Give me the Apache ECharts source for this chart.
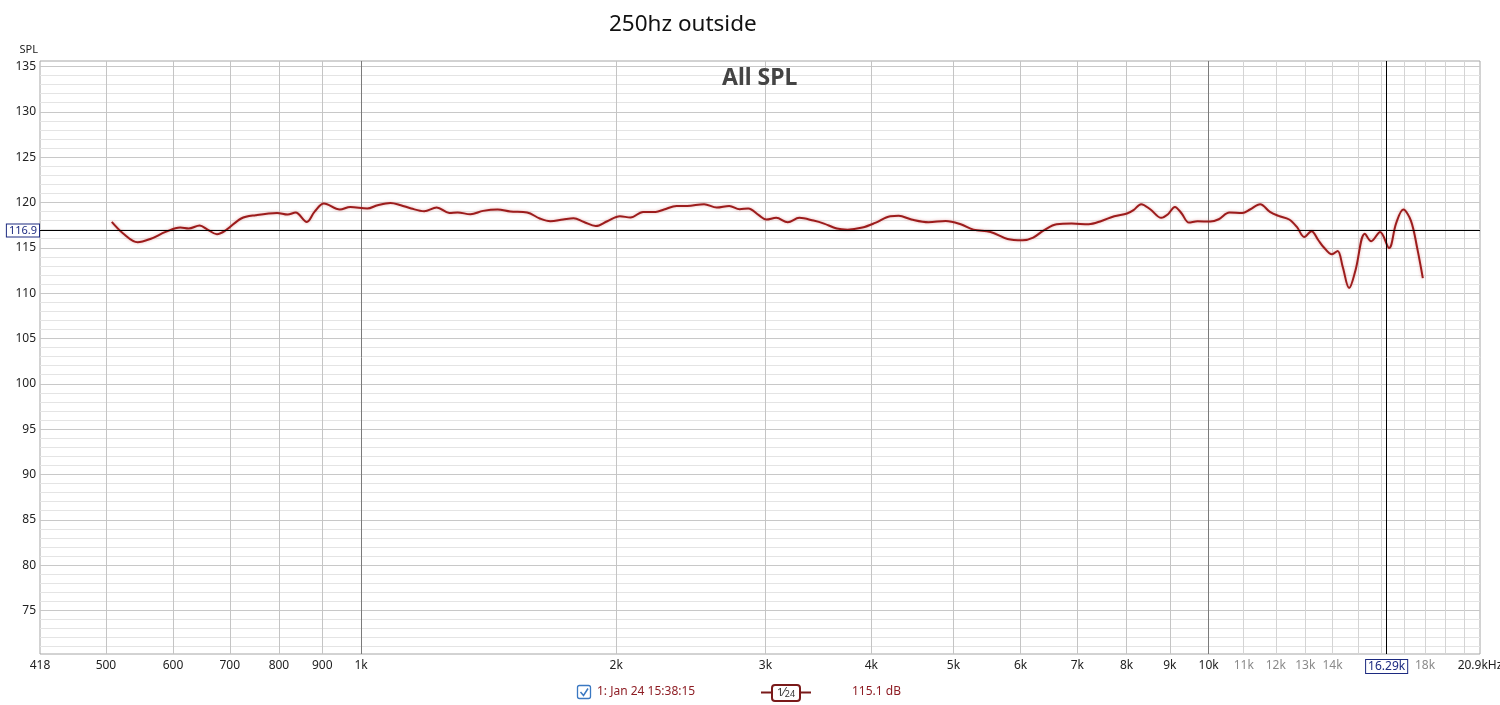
<!DOCTYPE html>
<html>
<head>
<meta charset="utf-8">
<title>250hz outside</title>
<script src="https://cdn.jsdelivr.net/npm/echarts@6/dist/echarts.min.js"></script>
<style>
  html, body { margin: 0; padding: 0; background: #fff; }
  #chart { width: 1500px; height: 705px; }
</style>
</head>
<body>
<div id="chart"></div>
<script>
const freqs = [
  508, 524, 545, 565, 588, 612, 626, 645, 659, 676,
  694, 722, 751, 796, 819, 837, 863, 881, 904, 944,
  971, 1017, 1046, 1083, 1114, 1146, 1187, 1228, 1271, 1300,
  1346, 1393, 1449, 1500, 1570, 1625, 1672, 1731, 1781, 1832,
  1892, 1952, 2020, 2079, 2151, 2226, 2277, 2357, 2425, 2539,
  2628, 2719, 2797, 2863, 2946, 3007, 3089, 3187, 3289, 3418,
  3517, 3641, 3749, 3904, 4042, 4210, 4308, 4460, 4672, 4895,
  5099, 5279, 5529, 5791, 6031, 6209, 6391, 6617, 6892, 7218,
  7474, 7738, 8011, 8153, 8324, 8539, 8791, 8946, 9125, 9293,
  9477, 9702, 10045, 10279, 10582, 10956, 11188, 11501, 11812, 12093,
  12446, 12709, 12963, 13224, 13473, 13661, 13979, 14197, 14395, 14646,
  14900, 15285, 15552, 15932, 16326, 16637, 16966, 17322, 17627, 17893
]
const spl = [
  117.85, 116.57, 115.61, 116.0, 116.75, 117.23, 117.12, 117.45, 117.0, 116.5,
  117.0, 118.23, 118.6, 118.85, 118.67, 118.89, 117.85, 118.96, 119.88, 119.22,
  119.51, 119.33, 119.7, 119.95, 119.7, 119.33, 119.03, 119.44, 118.85, 118.89,
  118.7, 119.07, 119.22, 119.0, 118.89, 118.23, 117.93, 118.12, 118.26, 117.85,
  117.4, 117.93, 118.48, 118.34, 118.96, 118.96, 119.22, 119.62, 119.62, 119.81,
  119.44, 119.62, 119.26, 119.33, 118.6, 118.12, 118.3, 117.82, 118.3, 118.0,
  117.67, 117.12, 117.0, 117.23, 117.74, 118.48, 118.52, 118.12, 117.82, 117.96,
  117.6, 117.0, 116.75, 115.97, 115.83, 116.13, 116.93, 117.6, 117.67, 117.6,
  117.96, 118.48, 118.78, 119.15, 119.81, 119.22, 118.3, 118.67, 119.51, 118.78,
  117.78, 117.93, 117.89, 118.15, 118.89, 118.85, 119.22, 119.81, 118.96, 118.52,
  118.12, 117.3, 116.2, 116.83, 115.83, 115.09, 114.28, 114.65, 112.88, 110.56,
  112.5, 116.56, 115.72, 116.75, 114.98, 117.67, 119.22, 118.0, 114.91, 111.66
]

// axis ticks
const xLabelFreqs = [418, 500, 600, 700, 800, 900, 1000, 2000, 3000, 4000, 5000,
  6000, 7000, 8000, 9000, 10000, 11000, 12000, 13000, 14000, 18000, 20900]
const xGreyLabels = [11000, 12000, 13000, 14000, 18000]
const xGridFreqs = [500, 600, 700, 800, 900, 1000, 2000, 3000, 4000, 5000, 6000,
  7000, 8000, 9000, 10000, 11000, 12000, 13000, 14000, 15000, 16000, 17000,
  18000, 19000, 20000]
const xDecades = [1000, 10000]
const yLabelValues = [75, 80, 85, 90, 95, 100, 105, 110, 115, 120, 125, 130, 135]
const yGridValues = Array.from({ length: 65 }, (_, i) => 71 + i)

const cursorFreq = 16290
const cursorSpl = 116.9
const cursorReading = '115.1 dB'
const traceName = '1: Jan 24 15:38:15'

const FONT = '"Noto Sans", "Open Sans", sans-serif'
const TRACE = '#9c1c1c'
const NAVY = '#1c2a80'

const lg = (f) => Math.log10(f)

const fmtFreq = (v) => {
	const f = Math.round(Math.pow(10, v))
	if (f === 20900) return '20.9kHz'
	if (f >= 1000) return f / 1000 + 'k'
	return String(f)
}

const chart = echarts.init(document.getElementById('chart'))

const option = {
	animation: false,
	backgroundColor: '#fff',
	title: [
		{
			text: '250hz outside',
			left: 604,
			top: 8,
			textStyle: { fontFamily: FONT, fontSize: 22.5, fontWeight: 'normal', color: '#111' }
		},
		{
			text: 'All SPL',
			left: 717,
			top: 62,
			textStyle: { fontFamily: FONT, fontSize: 23, fontWeight: 'bold', color: '#444' }
		}
	],
	grid: {
		left: 40, right: 20, top: 61, bottom: 51,
		outerBoundsMode: 'none',
		containLabel: false,
		show: true, borderColor: '#a6a6a6', borderWidth: 1
	},
	xAxis: {
		type: 'value',
		min: lg(418),
		max: lg(20900),
		axisLine: { show: false },
		axisTick: { show: false, customValues: xGridFreqs.map(lg) },
		splitLine: {
			show: true,
			lineStyle: {
				width: 1,
				color: xGridFreqs.map((f) => (xDecades.includes(f) ? '#7a7a7a' : f > 10000 ? '#d4d4d4' : '#c4c4c4'))
			}
		},
		axisLabel: {
			customValues: xLabelFreqs.map(lg),
			margin: 6,
			fontFamily: FONT,
			fontSize: 12,
			color: '#222',
			formatter: (v) => {
				const txt = fmtFreq(v)
				return xGreyLabels.includes(Math.round(Math.pow(10, v))) ? '{g|' + txt + '}' : txt
			},
			rich: { g: { color: '#8a8a8a', fontFamily: FONT, fontSize: 12 } }
		}
	},
	yAxis: {
		type: 'value',
		min: 70.2,
		max: 135.6,
		name: 'SPL',
		nameLocation: 'end',
		nameGap: 6,
		nameTextStyle: { fontFamily: FONT, fontSize: 11, color: '#222', align: 'right', padding: [0, 2, 0, 0] },
		axisLine: { show: false },
		axisTick: { show: false, customValues: yGridValues },
		splitLine: {
			show: true,
			lineStyle: { width: 1, color: yGridValues.map((v) => (v % 5 === 0 ? '#c8c8c8' : '#e4e4e4')) }
		},
		axisLabel: {
			customValues: yLabelValues,
			margin: 4,
			fontFamily: FONT,
			fontSize: 12,
			color: '#222'
		}
	},
	series: [
		{
			name: traceName,
			type: 'line',
			data: freqs.map((f, i) => [lg(f), spl[i]]),
			showSymbol: false,
			smooth: 0.35,
			lineStyle: {
				color: TRACE,
				width: 2,
				shadowColor: 'rgba(200, 70, 70, 0.45)',
				shadowBlur: 3
			},
			markLine: {
				silent: true,
				symbol: 'none',
				lineStyle: { color: '#000', width: 1, type: 'solid' },
				data: [
					{
						yAxis: cursorSpl,
						label: {
							position: 'start',
							distance: 1,
							formatter: String(cursorSpl),
							fontFamily: FONT,
							fontSize: 11,
							color: NAVY,
							backgroundColor: '#fff',
							borderColor: NAVY,
							borderWidth: 1,
							padding: [1, 2, 0, 2]
						}
					},
					{
						xAxis: lg(cursorFreq),
						label: {
							position: 'start',
							distance: 6,
							formatter: (cursorFreq / 1000).toFixed(2) + 'k',
							fontFamily: FONT,
							fontSize: 12,
							color: NAVY,
							backgroundColor: '#fff',
							borderColor: NAVY,
							borderWidth: 1,
							padding: [1, 2, 0, 2]
						}
					}
				]
			}
		}
	],
	graphic: [
		// check box
		{
			type: 'rect',
			shape: { x: 577.5, y: 685.5, width: 13, height: 13, r: 2 },
			style: { fill: '#fff', stroke: '#3a78c2', lineWidth: 1.3 }
		},
		{
			type: 'polyline',
			shape: { points: [[580.5, 692], [583.5, 695.5], [588, 688.5]] },
			style: { fill: null, stroke: '#3a78c2', lineWidth: 1.5 }
		},
		{
			type: 'text',
			x: 597,
			y: 692,
			style: { text: traceName, fontFamily: FONT, fontSize: 12, fill: '#8e1d24', verticalAlign: 'middle' }
		},
		// smoothing symbol
		{
			type: 'line',
			shape: { x1: 761, y1: 692.5, x2: 811, y2: 692.5 },
			style: { stroke: '#7a1a1a', lineWidth: 2 }
		},
		{
			type: 'rect',
			shape: { x: 772, y: 685, width: 28, height: 16, r: 3 },
			style: { fill: '#fff', stroke: '#7a1a1a', lineWidth: 2 }
		},
		{
			type: 'text',
			x: 786,
			y: 693,
			style: {
				text: '{n|1}{s|⁄}{d|24}',
				align: 'center',
				verticalAlign: 'middle',
				rich: {
					n: { fontFamily: FONT, fontSize: 11, fill: '#333', verticalAlign: 'top' },
					s: { fontFamily: FONT, fontSize: 12, fill: '#333' },
					d: { fontFamily: FONT, fontSize: 9, fill: '#333', verticalAlign: 'bottom', padding: [3, 0, 0, 0] }
				}
			}
		},
		{
			type: 'text',
			x: 852,
			y: 692,
			style: { text: cursorReading, fontFamily: FONT, fontSize: 12, fill: '#8e1d24', verticalAlign: 'middle' }
		}
	]
}

chart.setOption(option)
</script>
</body>
</html>
